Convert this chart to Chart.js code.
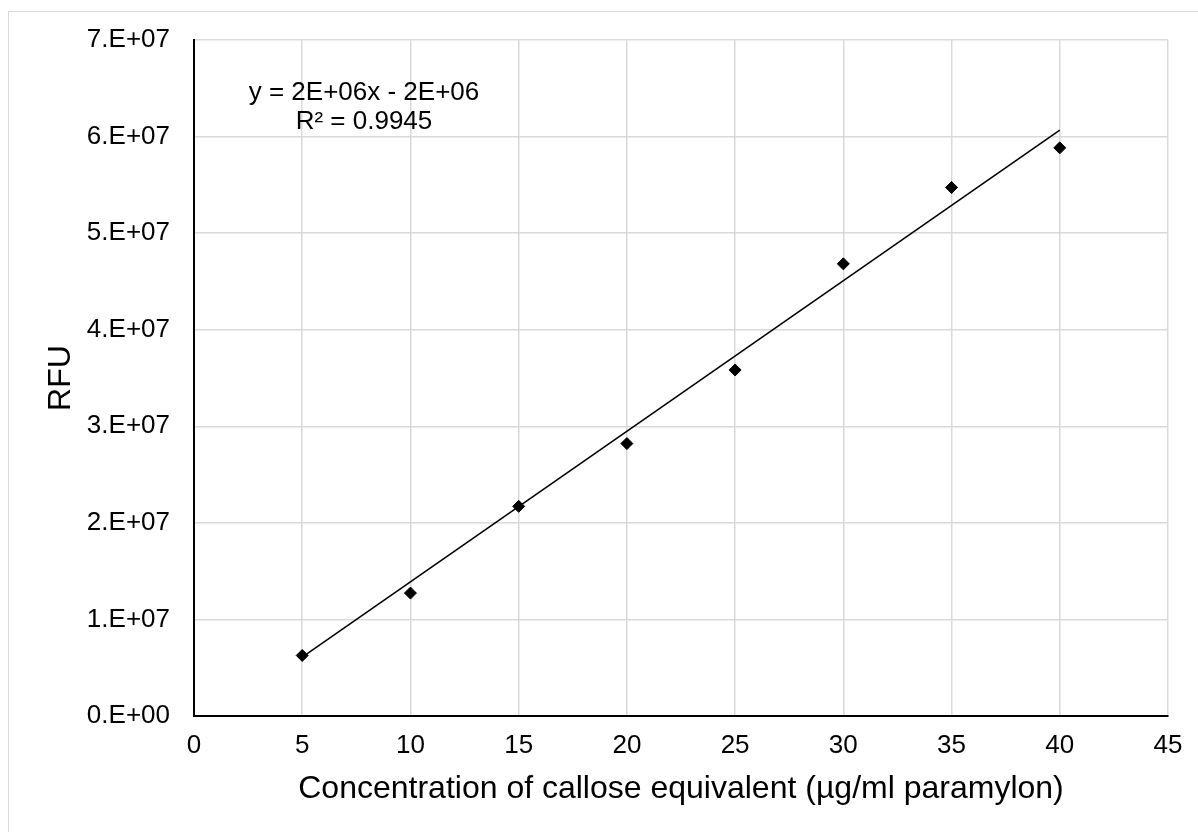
<!DOCTYPE html>
<html>
<head>
<meta charset="utf-8">
<script src="https://cdn.jsdelivr.net/npm/chart.js@4"></script>
<style>
  html, body { margin: 0; padding: 0; background: #fff; overflow: hidden; }
  #wrap { position: relative; width: 1198px; height: 832px; }
  #frame { position: absolute; left: 8px; top: 11px; width: 1220px; height: 860px; border: 1px solid #d9d9d9; box-sizing: border-box; pointer-events: none; }
  canvas { position: absolute; left: 0; top: 0; }
</style>
</head>
<body>
<div id="wrap">
  <canvas id="ctx" width="1198" height="832"></canvas>
  <div id="frame"></div>
</div>
<script>
// concentration (ug/ml) and measured RFU
const concentrations = [5, 10, 15, 20, 25, 30, 35, 40];
const rfuValues = [6.27e6, 1.273e7, 2.171e7, 2.821e7, 3.583e7, 4.682e7, 5.473e7, 5.883e7];

// trendline end points as drawn in the picture
const trendX = [5, 40];
const trendY = [6.1e6, 6.066e7];

const trendLabels = ["y = 2E+06x - 2E+06", "R\u00b2 = 0.9945"];

const xTitle = "Concentration of callose equivalent (\u00b5g/ml paramylon)";
const yTitle = "RFU";

const FONT = "'Liberation Sans', Arial, sans-serif";

function sciLabel(v) {
    if (v === 0) return "0.E+00";
    var exp = Math.floor(Math.log10(v));
    var m = Math.round(v / Math.pow(10, exp));
    return m + ".E+" + ("0" + exp).slice(-2);
}

var points = concentrations.map((c, i) => ({x: c, y: rfuValues[i]}));
var trend = trendX.map((c, i) => ({x: c, y: trendY[i]}));

// equation text in the upper left of the plot
const equationPlugin = {
    id: "equation",
    afterDraw(chart) {
        var c = chart.ctx;
        var area = chart.chartArea;
        c.save();
        c.font = "26px " + FONT;
        c.fillStyle = "#000";
        c.textAlign = "center";
        c.textBaseline = "middle";
        c.fillText(trendLabels[0], area.left + 170, area.top + 53);
        c.fillText(trendLabels[1], area.left + 170, area.top + 82);
        c.restore();
    }
};

new Chart("ctx", {
    type: "scatter",
    data: {
        datasets: [{
            type: "line",
            data: trend,
            borderColor: "#000",
            borderWidth: 1.5,
            pointRadius: 0,
            fill: false
        }, {
            data: points,
            pointStyle: "rectRot",
            pointRadius: 6,
            pointBorderWidth: 1,
            pointBackgroundColor: "#000",
            pointBorderColor: "#000"
        }]
    },
    options: {
        responsive: false,
        animation: false,
        layout: { padding: { top: 40, right: 30, bottom: 0, left: 0 } },
        plugins: {
            legend: { display: false },
            tooltip: { enabled: false }
        },
        scales: {
            x: {
                type: "linear",
                min: 0,
                max: 45,
                afterFit: (s) => { s.height = 116; },
                ticks: {
                    stepSize: 5,
                    padding: 14,
                    color: "#000",
                    font: { family: FONT, size: 26 }
                },
                grid: { color: "#d9d9d9", lineWidth: 1.5, drawTicks: false },
                border: { color: "#000", width: 2 },
                title: {
                    display: true,
                    text: xTitle,
                    color: "#000",
                    font: { family: FONT, size: 32 },
                    padding: { top: 0, bottom: 24 }
                }
            },
            y: {
                min: 0,
                max: 7e7,
                afterFit: (s) => { s.width = 194; },
                ticks: {
                    stepSize: 1e7,
                    padding: 24,
                    color: "#000",
                    font: { family: FONT, size: 26 },
                    callback: (v) => sciLabel(v)
                },
                grid: { color: "#d9d9d9", lineWidth: 1.5, drawTicks: false },
                border: { color: "#000", width: 2 },
                title: {
                    display: true,
                    text: yTitle,
                    color: "#000",
                    font: { family: FONT, size: 32 },
                    padding: { top: 42, bottom: 0 }
                }
            }
        }
    },
    plugins: [equationPlugin]
});
</script>
</body>
</html>
